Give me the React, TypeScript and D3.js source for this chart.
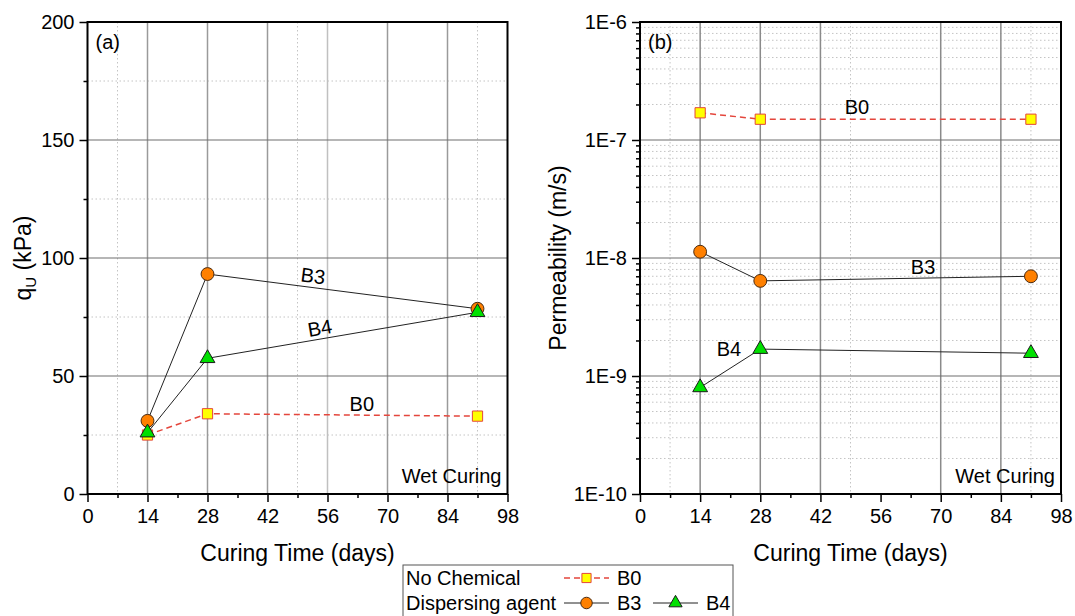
import React, { useEffect, useRef } from 'react';
import * as d3 from 'd3';

// curing times (days) of the samples
const days = [14, 28, 91];

// (a) unconfined compressive strength qU (kPa)
const qB0 = [25, 34, 33];
const qB3 = [31, 93.2, 78.5];
const qB4 = [26, 57.5, 77];

// (b) permeability (m/s)
const kB0 = [1.7e-7, 1.5e-7, 1.5e-7];
const kB3 = [1.13e-8, 6.4e-9, 7.0e-9];
const kB4 = [8.0e-10, 1.69e-9, 1.56e-9];

// axes
const dayTicks = [0, 14, 28, 42, 56, 70, 84, 98];
const dayMinor = [7, 21, 35, 49, 63, 77, 91];
const dayDotted = [7, 49, 91];
const qTicks = [0, 50, 100, 150, 200];
const qMinor = [25, 75, 125, 175];
const kTicks = [1e-10, 1e-9, 1e-8, 1e-7, 1e-6];
const kTickLabels = ['1E-10', '1E-9', '1E-8', '1E-7', '1E-6'];

// series labels placed in data coordinates [day, value]
const qLabelPos = { B0: [64, 38], B3: [52.6, 92.4], B4: [54.2, 70.3] };
const kLabelPos = { B0: [50.5, 1.9e-7], B3: [65.9, 8.4e-9], B4: [20.7, 1.69e-9] };

const FONT = '"Liberation Sans", Arial, sans-serif';

const styles = {
  B0: { stroke: '#e4463c', dash: '6,4', width: 1.5, symbol: d3.symbolSquare, size: 105, fill: '#ffff00', edge: '#e4463c' },
  B3: { stroke: '#222', dash: null, width: 1, symbol: d3.symbolCircle, size: 130, fill: '#ff8000', edge: '#4a2a10' },
  B4: { stroke: '#222', dash: null, width: 1, symbol: d3.symbolTriangle, size: 95, fill: '#00e000', edge: '#1a1a1a' },
};

const drawPanel = (svg, cfg) => {
  const { x, y, series, labelPos, tag, yTicks, yFmt, yMinor, yMajorGrid, yDotted, vMajor, rotateLabels } = cfg;
  const [x0, x1] = x.range();
  const [yb, yt] = y.range();
  const g = svg.append('g');

  // dotted minor grid
  g.append('g').selectAll('line').data(yDotted).join('line')
    .attr('x1', x0).attr('x2', x1)
    .attr('y1', d => y(d)).attr('y2', d => y(d))
    .attr('stroke', '#c4c4c4').attr('stroke-width', 1).attr('stroke-dasharray', '1.5,2.5');
  g.append('g').selectAll('line').data(dayDotted).join('line')
    .attr('x1', d => x(d)).attr('x2', d => x(d))
    .attr('y1', yt).attr('y2', yb)
    .attr('stroke', '#c4c4c4').attr('stroke-width', 1).attr('stroke-dasharray', '1.5,2.5');

  // major grid
  g.append('g').selectAll('line').data(vMajor).join('line')
    .attr('x1', d => x(d.v)).attr('x2', d => x(d.v))
    .attr('y1', yt).attr('y2', yb)
    .attr('stroke', d => d.c).attr('stroke-width', 1.5);
  g.append('g').selectAll('line').data(yMajorGrid).join('line')
    .attr('x1', x0).attr('x2', x1)
    .attr('y1', d => y(d)).attr('y2', d => y(d))
    .attr('stroke', '#6e6e6e').attr('stroke-width', 1.2);

  // axes
  const yAxis = g.append('g').attr('transform', `translate(${x0},0)`)
    .call(d3.axisLeft(y).tickValues(yTicks).tickFormat(yFmt).tickSize(8).tickPadding(5).tickSizeOuter(0));
  g.append('g').attr('transform', `translate(${x0},0)`)
    .call(d3.axisLeft(y).tickValues(yMinor).tickFormat(() => '').tickSize(4).tickSizeOuter(0));
  const xAxis = g.append('g').attr('transform', `translate(0,${yb})`)
    .call(d3.axisBottom(x).tickValues(dayTicks).tickSize(8).tickPadding(7).tickSizeOuter(0));
  g.append('g').attr('transform', `translate(0,${yb})`)
    .call(d3.axisBottom(x).tickValues(dayMinor).tickFormat(() => '').tickSize(4).tickSizeOuter(0));
  g.selectAll('.domain').remove();
  g.selectAll('.tick line').attr('stroke', '#000').attr('stroke-width', 1.5);
  [yAxis, xAxis].forEach(a => a.attr('font-family', FONT).attr('font-size', 20)
    .selectAll('text').attr('fill', '#000'));

  // frame
  g.append('rect')
    .attr('x', x0).attr('y', yt).attr('width', x1 - x0).attr('height', yb - yt)
    .attr('fill', 'none').attr('stroke', '#000').attr('stroke-width', 2);

  // lines
  series.forEach(s => {
    const st = styles[s.name];
    const pts = days.map((d, i) => [d, s.values[i]]);
    g.append('path').datum(pts)
      .attr('fill', 'none')
      .attr('stroke', st.stroke)
      .attr('stroke-width', st.width)
      .attr('stroke-dasharray', st.dash)
      .attr('d', d3.line().x(d => x(d[0])).y(d => y(d[1])));
  });
  // markers
  series.forEach(s => {
    const st = styles[s.name];
    g.append('g').selectAll('path').data(days.map((d, i) => [d, s.values[i]])).join('path')
      .attr('transform', d => `translate(${x(d[0])},${y(d[1])})`)
      .attr('d', d3.symbol().type(st.symbol).size(st.size))
      .attr('fill', st.fill).attr('stroke', st.edge).attr('stroke-width', 1);
  });

  // series labels
  series.forEach(s => {
    const [lx, ly] = labelPos[s.name];
    let ang = 0;
    if (rotateLabels && s.name !== 'B0') {
      const dx = x(days[2]) - x(days[1]);
      const dy = y(s.values[2]) - y(s.values[1]);
      ang = Math.atan2(dy, dx) * 180 / Math.PI;
    }
    g.append('text')
      .attr('transform', `translate(${x(lx)},${y(ly)}) rotate(${ang})`)
      .attr('text-anchor', 'middle').attr('dominant-baseline', 'central')
      .attr('font-family', FONT).attr('font-size', 20).attr('fill', '#000')
      .text(s.name);
  });

  // panel tag and condition
  g.append('text').attr('x', x0 + 8).attr('y', yt + 27)
    .attr('font-family', FONT).attr('font-size', 20).attr('fill', '#000').text(tag);
  g.append('text').attr('x', x1 - 6).attr('y', yb - 11)
    .attr('text-anchor', 'end')
    .attr('font-family', FONT).attr('font-size', 20).attr('fill', '#000').text('Wet Curing');

  // x title
  g.append('text').attr('x', (x0 + x1) / 2).attr('y', yb + 67)
    .attr('text-anchor', 'middle')
    .attr('font-family', FONT).attr('font-size', 23).attr('fill', '#000').text('Curing Time (days)');
  return g;
};

const App = () => {
  const svgRef = useRef(null);

  useEffect(() => {
    const svg = d3.select(svgRef.current);
    svg.selectAll('*').remove();

    const top = 22;
    const bottom = 494;

    // (a) strength
    const xa = d3.scaleLinear().domain([0, 98]).range([87.5, 507.5]);
    const ya = d3.scaleLinear().domain([0, 200]).range([bottom, top]);
    const ga = drawPanel(svg, {
      x: xa, y: ya, tag: '(a)',
      series: [{ name: 'B0', values: qB0 }, { name: 'B3', values: qB3 }, { name: 'B4', values: qB4 }],
      labelPos: qLabelPos,
      yTicks: qTicks, yFmt: d3.format('d'), yMinor: qMinor,
      yMajorGrid: [50, 100, 150], yDotted: qMinor,
      vMajor: [14, 28, 42, 56, 70, 84].map(v => ({ v, c: v === 56 ? '#c0c0c0' : '#9a9a9a' })),
      rotateLabels: true,
    });
    const qTitle = ga.append('text')
      .attr('transform', `translate(31,${(top + bottom) / 2}) rotate(-90)`)
      .attr('text-anchor', 'middle')
      .attr('font-family', FONT).attr('font-size', 23).attr('fill', '#000');
    qTitle.append('tspan').text('q');
    qTitle.append('tspan').attr('font-size', 15).attr('dy', 5).text('U');
    qTitle.append('tspan').attr('dy', -5).text(' (kPa)');

    // (b) permeability
    const xb = d3.scaleLinear().domain([0, 98]).range([640, 1061]);
    const yb = d3.scaleLog().domain([1e-10, 1e-6]).range([bottom, top]);
    const logMinor = yb.ticks().filter(t => !kTicks.some(k => Math.abs(Math.log10(k) - Math.log10(t)) < 1e-6));
    const gb = drawPanel(svg, {
      x: xb, y: yb, tag: '(b)',
      series: [{ name: 'B0', values: kB0 }, { name: 'B3', values: kB3 }, { name: 'B4', values: kB4 }],
      labelPos: kLabelPos,
      yTicks: kTicks, yFmt: (d, i) => kTickLabels[i], yMinor: logMinor,
      yMajorGrid: [1e-9, 1e-8, 1e-7], yDotted: logMinor,
      vMajor: [14, 28, 42, 70, 84].map(v => ({ v, c: '#8a8a8a' })),
      rotateLabels: false,
    });
    gb.append('text')
      .attr('transform', `translate(566,${(top + bottom) / 2}) rotate(-90)`)
      .attr('text-anchor', 'middle')
      .attr('font-family', FONT).attr('font-size', 23).attr('fill', '#000')
      .text('Permeability (m/s)');

    // legend
    const lg = svg.append('g').attr('font-family', FONT).attr('font-size', 20).attr('fill', '#000');
    lg.append('rect').attr('x', 403).attr('y', 565).attr('width', 330).attr('height', 60)
      .attr('fill', '#fff').attr('stroke', '#555').attr('stroke-width', 1);
    const rows = [
      { label: 'No Chemical', y: 578, items: [{ name: 'B0', x: 564 }] },
      { label: 'Dispersing agent', y: 603, items: [{ name: 'B3', x: 564 }, { name: 'B4', x: 653 }] },
    ];
    rows.forEach(r => {
      lg.append('text').attr('x', 406).attr('y', r.y).attr('dominant-baseline', 'central').text(r.label);
      r.items.forEach(it => {
        const st = styles[it.name];
        lg.append('line').attr('x1', it.x).attr('x2', it.x + 45).attr('y1', r.y).attr('y2', r.y)
          .attr('stroke', st.stroke).attr('stroke-width', st.width).attr('stroke-dasharray', st.dash);
        lg.append('path').attr('transform', `translate(${it.x + 22.5},${r.y})`)
          .attr('d', d3.symbol().type(st.symbol).size(st.size * 0.8))
          .attr('fill', st.fill).attr('stroke', st.edge).attr('stroke-width', 1);
        lg.append('text').attr('x', it.x + 53).attr('y', r.y).attr('dominant-baseline', 'central').text(it.name);
      });
    });
  }, []);

  return (
    <svg ref={svgRef} width={1075} height={616}
      style={{ position: 'absolute', left: 0, top: 0, background: '#fff' }} />
  );
};

export default App;
